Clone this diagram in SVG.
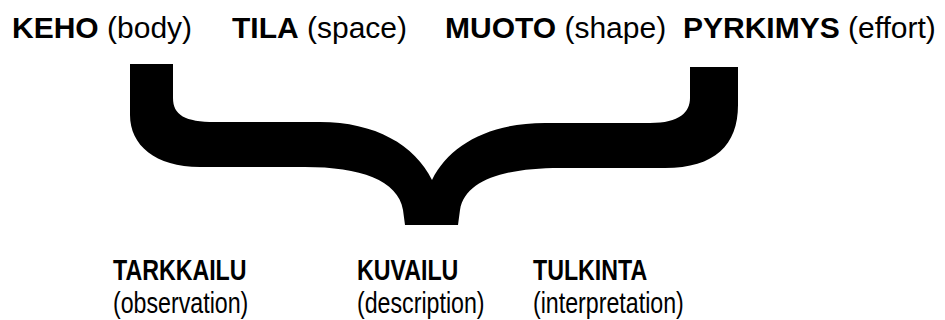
<svg xmlns="http://www.w3.org/2000/svg" width="945" height="320" viewBox="0 0 945 320">
<style>
.t{font-family:"Liberation Sans",Arial,sans-serif;font-size:30px;fill:#000}
.b{font-weight:bold}
.n{font-family:"Liberation Sans",Arial,sans-serif;font-size:29px;fill:#000}
</style>
<rect width="945" height="320" fill="#fff"/>
<g id="keho"><text class="t" x="12" y="38"><tspan class="b">KEHO</tspan> (body)</text></g>
<g id="tila"><text class="t" x="232" y="38"><tspan class="b">TILA</tspan> (space)</text></g>
<g id="muoto"><text class="t" x="445" y="38"><tspan class="b">MUOTO</tspan> (shape)</text></g>
<g id="pyrkimys"><text class="t" x="683" y="38"><tspan class="b">PYRKIMYS</tspan> (effort)</text></g>
<g id="connectors">
<path id="brace" fill="#000" d="M130,64 L173,64 L173,98 C173,115 185,122 215,122 L320,122 C375,122 415,145 432,180 C449,145 489,123 545,123 L650,123 C680,123 690,112 690,98 L690,67 L738,67 L738,105 C738,145 715,168 665,168 L560,168 C505,168 465,180 460,210 L458,225 L405,225 L403,210 C398,180 360,167 305,167 L200,167 C155,167 130,145 130,115 Z"/>
</g>
<g id="tarkkailu"><text class="n b" transform="translate(113,280) scale(0.8,1)">TARKKAILU</text><text class="n" transform="translate(113,313) scale(0.8,1)">(observation)</text></g>
<g id="kuvailu"><text class="n b" transform="translate(357,280) scale(0.8,1)">KUVAILU</text><text class="n" transform="translate(357,313) scale(0.8,1)">(description)</text></g>
<g id="tulkinta"><text class="n b" transform="translate(533,280) scale(0.8,1)">TULKINTA</text><text class="n" transform="translate(533,313) scale(0.8,1)">(interpretation)</text></g>
</svg>
